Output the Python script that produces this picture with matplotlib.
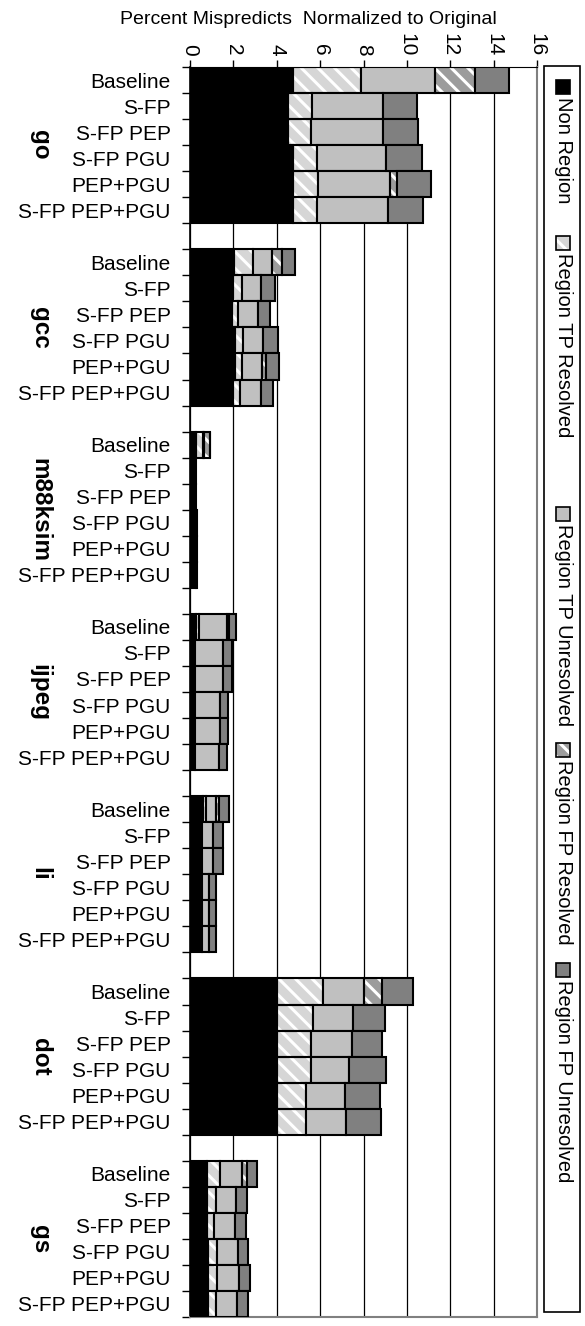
import matplotlib
matplotlib.use("Agg")
import matplotlib.pyplot as plt
import matplotlib.transforms as mtransforms
from matplotlib.patches import Rectangle
import numpy as np

plt.rcParams['font.family'] = ['Liberation Sans', 'DejaVu Sans']
plt.rcParams['hatch.linewidth'] = 2.2

benchmarks = ["go", "gcc", "m88ksim", "ijpeg", "li", "dot", "gs"]
configs = ["Baseline", "S-FP", "S-FP PEP", "S-FP PGU", "PEP+PGU", "S-FP PEP+PGU"]

# one row per benchmark, one value per config
non_region = [
    [4.73, 4.53, 4.53, 4.76, 4.76, 4.76],
    [2.04, 1.97, 1.94, 2.07, 2.07, 2.00],
    [0.28, 0.28, 0.28, 0.28, 0.28, 0.28],
    [0.28, 0.23, 0.23, 0.23, 0.23, 0.23],
    [0.61, 0.54, 0.54, 0.55, 0.55, 0.55],
    [4.00, 4.00, 4.00, 4.00, 4.00, 4.00],
    [0.77, 0.77, 0.77, 0.84, 0.84, 0.84],
]
tp_resolved = [
    [3.15, 1.09, 1.05, 1.11, 1.12, 1.11],
    [0.85, 0.43, 0.26, 0.39, 0.31, 0.30],
    [0.32, 0.00, 0.00, 0.00, 0.00, 0.00],
    [0.15, 0.00, 0.00, 0.00, 0.00, 0.00],
    [0.12, 0.00, 0.00, 0.00, 0.00, 0.00],
    [2.14, 1.68, 1.58, 1.58, 1.35, 1.35],
    [0.61, 0.43, 0.35, 0.42, 0.39, 0.36],
]
tp_unresolved = [
    [3.43, 3.26, 3.34, 3.19, 3.34, 3.27],
    [0.90, 0.87, 0.92, 0.92, 0.95, 0.96],
    [0.05, 0.00, 0.00, 0.04, 0.04, 0.04],
    [1.26, 1.31, 1.31, 1.15, 1.15, 1.13],
    [0.47, 0.54, 0.54, 0.33, 0.33, 0.33],
    [1.89, 1.85, 1.87, 1.75, 1.79, 1.85],
    [1.00, 0.92, 0.97, 0.97, 1.04, 0.95],
]
fp_resolved = [
    [1.85, 0.00, 0.00, 0.00, 0.34, 0.00],
    [0.43, 0.00, 0.00, 0.00, 0.16, 0.00],
    [0.25, 0.00, 0.00, 0.00, 0.00, 0.00],
    [0.12, 0.00, 0.00, 0.00, 0.00, 0.00],
    [0.16, 0.00, 0.00, 0.00, 0.00, 0.00],
    [0.83, 0.00, 0.00, 0.00, 0.00, 0.00],
    [0.26, 0.00, 0.00, 0.00, 0.00, 0.00],
]
fp_unresolved = [
    [1.56, 1.60, 1.57, 1.65, 1.53, 1.61],
    [0.63, 0.65, 0.57, 0.66, 0.61, 0.58],
    [0.04, 0.00, 0.00, 0.00, 0.00, 0.00],
    [0.31, 0.38, 0.38, 0.37, 0.37, 0.36],
    [0.44, 0.46, 0.46, 0.32, 0.32, 0.32],
    [1.43, 1.46, 1.41, 1.73, 1.62, 1.60],
    [0.46, 0.52, 0.49, 0.46, 0.49, 0.54],
]

series = [
    ("Non Region", non_region, "black", None),
    ("Region TP Resolved", tp_resolved, "#d6d6d6", "\\\\"),
    ("Region TP Unresolved", tp_unresolved, "#c0c0c0", None),
    ("Region FP Resolved", fp_resolved, "#9c9c9c", "\\\\"),
    ("Region FP Unresolved", fp_unresolved, "#808080", None),
]

W, H = 585, 1326
fig = plt.figure(figsize=(W / 100, H / 100), dpi=100)
ax = fig.add_axes([190 / W, 1 - 1317 / H, 347 / W, 1250 / H])

n_cfg = len(configs)
slot = n_cfg + 1
ypos = np.array([g * slot + j for g in range(len(benchmarks)) for j in range(n_cfg)])

left = np.zeros(len(ypos))
for name, vals, color, hatch in series:
    v = np.array(vals).ravel()
    m = v > 0
    if hatch:
        ax.barh(ypos[m], v[m], left=left[m], height=1.0, color=color,
                edgecolor="white", hatch=hatch, linewidth=0, zorder=2)
        ax.barh(ypos[m], v[m], left=left[m], height=1.0, fill=False,
                edgecolor="black", linewidth=1.5, zorder=3)
    else:
        ax.barh(ypos[m], v[m], left=left[m], height=1.0, color=color,
                edgecolor="black", linewidth=1.5, zorder=3)
    left += v

n_slots = len(benchmarks) * slot - 1
ax.set_ylim(n_slots - 0.5, -0.5)
ax.set_xlim(0, 16)

ax.xaxis.tick_top()
ax.set_xticks(np.arange(0, 17, 2))
ax.set_xticklabels([str(t) for t in range(0, 17, 2)], rotation=-90, fontsize=15)
ax.tick_params(axis="x", direction="out", length=5, width=1, pad=3)

ax.set_yticks(ypos)
ax.set_yticklabels(configs * len(benchmarks), fontsize=15)
ax.set_yticks(np.arange(-0.5, n_slots, 1.0), minor=True)
ax.tick_params(axis="y", which="major", length=0, pad=14)
ax.tick_params(axis="y", which="minor", direction="out", length=6, width=1)

ax.xaxis.grid(True, color="black", linewidth=0.9, zorder=0)
ax.set_axisbelow(True)
ax.spines["left"].set_color("black")
ax.spines["left"].set_linewidth(1.2)
ax.spines["top"].set_color("black")
for s in ("right", "bottom"):
    ax.spines[s].set_color("#808080")
    ax.spines[s].set_linewidth(1.5)

trans = mtransforms.blended_transform_factory(fig.transFigure, ax.transData)
for g, b in enumerate(benchmarks):
    ax.text(40 / W, g * slot + (n_cfg - 1) / 2, b, transform=trans, rotation=-90,
            ha="center", va="center", fontsize=17.5, fontweight="bold")

fig.text(308 / W, 1 - 19 / H, "Percent Mispredicts  Normalized to Original",
         ha="center", va="center", fontsize=14)

# legend, drawn rotated like the rest of the figure
fig.patches.append(Rectangle((544 / W, 1 - 1312 / H), 36 / W, 1246 / H,
                             transform=fig.transFigure, fill=False,
                             edgecolor="black", linewidth=1.2))
leg_start = [80, 236, 507, 743, 963]
for (name, _, color, hatch), y0 in zip(series, leg_start):
    fig.patches.append(Rectangle((556 / W, 1 - (y0 + 14) / H), 14 / W, 14 / H,
                                 transform=fig.transFigure, facecolor=color,
                                 edgecolor="white" if hatch else "black",
                                 hatch=hatch, linewidth=0 if hatch else 1.2))
    if hatch:
        fig.patches.append(Rectangle((556 / W, 1 - (y0 + 14) / H), 14 / W, 14 / H,
                                     transform=fig.transFigure, fill=False,
                                     edgecolor="black", linewidth=1.2))
    fig.text(563 / W, 1 - (y0 + 17) / H, name, rotation=-90, ha="center",
             va="top", fontsize=14.5)

fig.savefig("out.png", dpi=100)
